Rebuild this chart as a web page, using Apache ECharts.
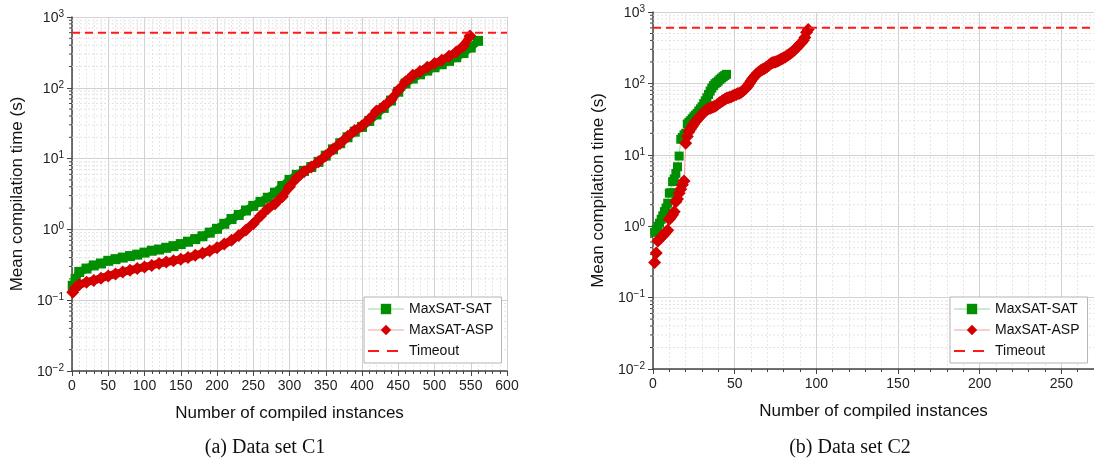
<!DOCTYPE html>
<html>
<head>
<meta charset="utf-8">
<script src="https://cdn.jsdelivr.net/npm/echarts@6/dist/echarts.min.js"></script>
<style>
  html, body { margin: 0; padding: 0; background: #fff; }
  #c1 { position: absolute; left: 0; top: 0; width: 547px; height: 467px; }
  #c2 { position: absolute; left: 547px; top: 0; width: 547px; height: 467px; }
</style>
</head>
<body>
<div id="c1"></div>
<div id="c2"></div>
<script>
// Data set C1 (instances sorted by time)
var satC1N = [1, 5, 10, 20, 30, 40, 50, 60, 70, 80, 90, 100, 110, 120, 130, 140, 150, 160, 170, 180,
  190, 200, 210, 220, 230, 240, 250, 260, 270, 280, 290, 300, 310, 320, 330, 340, 350, 360, 370, 380,
  390, 400, 410, 420, 430, 440, 450, 460, 470, 480, 490, 500, 510, 520, 530, 540, 550, 560];
var satC1T = [0.16, 0.20, 0.25, 0.28, 0.31, 0.33, 0.36, 0.38, 0.40, 0.42, 0.44, 0.47, 0.50, 0.52, 0.55, 0.58, 0.62, 0.67, 0.73, 0.80,
  0.90, 1.02, 1.20, 1.40, 1.60, 1.85, 2.15, 2.45, 2.8, 3.3, 4.1, 5.0, 5.9, 6.7, 7.6, 9.0, 11.0, 13.5, 16.5, 20,
  24, 28, 34, 42, 52, 66, 88, 115, 135, 155, 175, 195, 215, 240, 270, 310, 370, 460];
var aspC1N = [1, 5, 10, 20, 30, 40, 50, 60, 70, 80, 90, 100, 110, 120, 130, 140, 150, 160, 170, 180,
  190, 200, 210, 220, 230, 240, 250, 260, 270, 280, 290, 300, 310, 320, 330, 340, 350, 360, 370, 380,
  390, 400, 410, 420, 430, 440, 450, 460, 470, 480, 490, 500, 510, 520, 530, 540, 549];
var aspC1T = [0.13, 0.15, 0.165, 0.18, 0.19, 0.205, 0.22, 0.235, 0.25, 0.265, 0.28, 0.295, 0.31, 0.33, 0.345, 0.36, 0.38, 0.40, 0.43, 0.46,
  0.50, 0.55, 0.62, 0.70, 0.82, 0.98, 1.2, 1.55, 1.95, 2.3, 2.9, 4.0, 5.3, 6.5, 7.6, 9.0, 11.0, 13.5, 16.5, 20.5,
  25, 29, 36, 47, 55, 68, 92, 122, 150, 170, 195, 220, 245, 280, 320, 390, 540];

// Data set C2, one value per compiled instance (instance n = index + 1)
var satC2T = [0.82, 0.9, 1.0, 1.1, 1.25, 1.4, 1.6, 1.8, 2.1, 2.9, 2.95, 4.2, 4.6, 5.5, 6.8, 9.6, 16.5, 17.5, 19, 20,
  27, 28.5, 30, 32, 34, 36, 38, 41, 44, 47, 52, 57, 63, 70, 78, 86, 93, 99, 103, 108,
  114, 119, 124, 129, 134];
var aspC2T = [0.31, 0.42, 0.62, 0.66, 0.70, 0.74, 0.78, 0.83, 0.88, 1.25, 1.35, 1.45, 1.6, 2.2, 2.4, 2.9, 3.3, 3.8, 4.3, 14.5,
  18, 21, 23, 25, 27, 29, 31, 33, 35, 37, 39, 41, 43, 44, 45, 46, 47, 48, 50, 52,
  54, 56, 58, 60, 62, 63, 64, 65, 67, 69, 70, 72, 73, 75, 78, 82, 86, 92, 100, 108,
  116, 124, 132, 140, 146, 151, 156, 161, 166, 172, 180, 188, 195, 198, 200, 204, 210, 216, 222, 228,
  235, 243, 252, 262, 272, 285, 300, 318, 335, 355, 375, 400, 440, 520, 570];

var timeout = 600;

var GREEN = '#008f00';
var RED = '#d40000';
var FONT = '"Liberation Sans", Arial, sans-serif';

function pairs(xs, ys) {
  return ys.map(function (v, i) { return [xs ? xs[i] : i + 1, v]; });
}

// dotted minor grid + small ticks at 2..9 of every decade
var minorY = [];
for (var e = -2; e < 3; e++) {
  for (var k = 2; k < 10; k++) minorY.push([0, k * Math.pow(10, e)]);
}
function minorRender(params, api) {
  var cs = params.coordSys;
  var y = api.coord([0, api.value(1)])[1];
  return {
    type: 'group',
    children: [
      { type: 'line', shape: { x1: cs.x, y1: y, x2: cs.x + cs.width, y2: y },
        style: { stroke: '#e2e2e2', lineWidth: 1, lineDash: [2, 2] } },
      { type: 'line', shape: { x1: cs.x - 3, y1: y, x2: cs.x, y2: y },
        style: { stroke: '#444', lineWidth: 1 } }
    ]
  };
}

function supLabel(v) {
  var p = Math.round(Math.log10(v));
  return '{b|10}{e|' + (p < 0 ? '\u2212' + (-p) : p) + '}';
}

function makeOption(cfg) {
  return {
    animation: false,
    textStyle: { fontFamily: FONT },
    grid: { left: cfg.gridLeft, top: cfg.gridTop, width: cfg.gridWidth, height: cfg.gridHeight },
    xAxis: {
      type: 'value', min: 0, max: cfg.xMax, interval: 50,
      name: 'Number of compiled instances', nameLocation: 'middle', nameGap: 34,
      nameTextStyle: { fontSize: 17, color: '#111', fontFamily: FONT },
      axisLine: { lineStyle: { color: '#444', width: 1.5 } },
      axisTick: { length: 5, lineStyle: { color: '#444' } },
      minorTick: { show: true, splitNumber: 5, length: 3, lineStyle: { color: '#444' } },
      axisLabel: { fontSize: 14, color: '#222', margin: 8, showMaxLabel: cfg.showMax },
      splitLine: { lineStyle: { color: '#d2d2d2' } },
      minorSplitLine: { show: true, lineStyle: { color: '#e6e6e6', type: [2, 2] } }
    },
    yAxis: {
      type: 'log', logBase: 10, min: 0.01, max: 1000,
      name: 'Mean compilation time (s)', nameLocation: 'middle', nameGap: 45,
      nameTextStyle: { fontSize: 17, color: '#111', fontFamily: FONT },
      axisLine: { show: true, lineStyle: { color: '#444', width: 1.5 } },
      axisTick: { show: true, length: 5, lineStyle: { color: '#444' } },
      axisLabel: {
        margin: 8, formatter: supLabel,
        rich: {
          b: { fontSize: 14, color: '#222', fontFamily: FONT, verticalAlign: 'bottom', lineHeight: 16 },
          e: { fontSize: 10, color: '#222', fontFamily: FONT, verticalAlign: 'top', lineHeight: 10 }
        }
      },
      splitLine: { lineStyle: { color: '#d2d2d2' } }
    },
    legend: {
      orient: 'vertical', left: cfg.legendLeft, top: 297,
      itemWidth: 36, itemHeight: 13, itemGap: 7,
      padding: [5, 8, 5, 3],
      borderColor: '#b4b4b4', borderWidth: 1, borderRadius: 0, backgroundColor: '#fff',
      textStyle: { fontSize: 14, color: '#111', fontFamily: FONT },
      data: [
        { name: 'MaxSAT-SAT', lineStyle: { width: 1, color: '#9fd49f' } },
        { name: 'MaxSAT-ASP', lineStyle: { width: 1, color: '#eda3a3' } },
        { name: 'Timeout', lineStyle: { width: 2, type: [11, 8] },
          itemStyle: { color: 'rgba(0,0,0,0)', borderWidth: 0, opacity: 0 } }
      ]
    },
    graphic: [{
      type: 'text', x: cfg.captionX, y: 448,
      style: { text: cfg.caption, textAlign: 'center', textVerticalAlign: 'middle',
        font: '20px "Liberation Serif", "Times New Roman", serif', fill: '#111' }
    }],
    series: [
      { type: 'custom', name: 'minor', data: minorY, renderItem: minorRender, silent: true, z: 1 },
      {
        name: 'MaxSAT-SAT', type: 'line', data: cfg.sat, z: 3,
        symbol: 'rect', symbolSize: cfg.thick ? 10 : 9, showAllSymbol: true,
        itemStyle: { color: GREEN },
        lineStyle: { color: cfg.thick ? GREEN : '#9fd49f', width: cfg.thick ? 8 : 1 }
      },
      {
        name: 'MaxSAT-ASP', type: 'line', data: cfg.asp, z: 4,
        symbol: 'diamond', symbolSize: 13, showAllSymbol: true,
        itemStyle: { color: RED },
        lineStyle: { color: cfg.thick ? RED : '#eda3a3', width: cfg.thick ? 8 : 1 }
      },
      {
        name: 'Timeout', type: 'line', symbol: 'none', z: 5,
        data: [[0, timeout], [cfg.xMax, timeout]],
        itemStyle: { color: '#ff1a1a' },
        lineStyle: { color: '#ff1a1a', width: 2, type: [8, 5] }
      }
    ]
  };
}

var chart1 = echarts.init(document.getElementById('c1'));
chart1.setOption(makeOption({
  gridLeft: 72, gridTop: 17, gridWidth: 435, gridHeight: 354, xMax: 600, showMax: true,
  legendLeft: 364, caption: '(a) Data set C1', captionX: 265, thick: true,
  sat: pairs(satC1N, satC1T), asp: pairs(aspC1N, aspC1T)
}));

var chart2 = echarts.init(document.getElementById('c2'));
chart2.setOption(makeOption({
  gridLeft: 106, gridTop: 12, gridWidth: 445, gridHeight: 357, xMax: 270, showMax: false,
  legendLeft: 403, caption: '(b) Data set C2', captionX: 303, thick: false,
  sat: pairs(null, satC2T), asp: pairs(null, aspC2T)
}));
</script>
</body>
</html>
